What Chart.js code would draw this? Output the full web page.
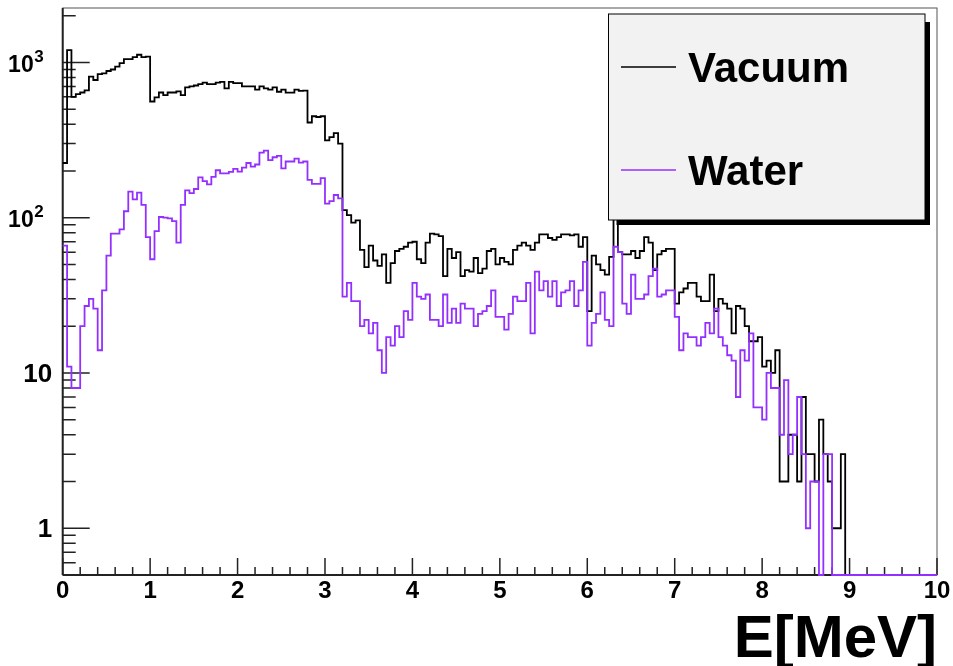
<!DOCTYPE html>
<html>
<head>
<meta charset="utf-8">
<title>Energy spectrum: Vacuum vs Water</title>
<script src="https://cdn.jsdelivr.net/npm/chart.js@4.4.1/dist/chart.umd.min.js"></script>
<style>
  html, body { margin: 0; padding: 0; background: #fff; }
  #wrap { position: relative; width: 953px; height: 666px; }
</style>
</head>
<body>
<div id="wrap"><canvas id="spectrum"></canvas></div>
<script>
// 200 bins of 0.05 MeV between 0 and 10 MeV (counts per bin)
const binWidth = 0.05;

const vacuumCounts = [
  225, 1200, 600, 625, 640, 660, 810, 770, 840, 850, 880, 900, 940, 990, 1050, 1050, 1080, 1120, 1080, 1090,
  560, 595, 640, 615, 640, 640, 650, 615, 690, 700, 710, 725, 740, 725, 725, 740, 750, 680, 750, 735,
  735, 700, 700, 700, 667, 700, 680, 667, 690, 647, 667, 638, 638, 667, 655, 657, 410, 450, 445, 450,
  315, 330, 350, 300, 112, 104, 93, 96, 62, 48, 66, 53, 49, 58, 38, 51, 61, 63, 65, 69,
  70, 54, 51, 69, 79, 78, 76, 42, 63, 55, 60, 42, 46, 45, 55, 44, 47, 61, 63, 50,
  55, 52, 50, 62, 66, 69, 66, 62, 69, 78, 78, 74, 72, 75, 78, 78, 77, 78, 65, 75,
  25, 57, 50, 46, 43, 56, 100, 60, 58, 58, 61, 55, 61, 75, 69, 46, 58, 61, 63, 63,
  28, 33, 35, 38, 38, 31, 29, 29, 43, 25, 30, 28, 26, 18, 27, 26, 20, 16, 16, 17,
  11, 12, 10, 14, 2, 2, 4, 4, 2, 7, 3, 3, 2, 5, 3, 2, 1, 1, 3, 0,
  0, 0, 0, 0, 0, 0, 0, 0, 0, 0, 0, 0, 0, 0, 0, 0, 0, 0, 0, 0
];

const waterCounts = [
  66, 11, 8, 8, 20, 27, 30, 26, 14, 34, 57, 79, 79, 84, 110, 147, 131, 145, 121, 75,
  54, 82, 101, 100, 99, 95, 69, 121, 150, 144, 153, 182, 172, 164, 183, 202, 193, 193, 197, 206,
  198, 210, 225, 213, 220, 262, 270, 235, 245, 250, 208, 230, 230, 240, 226, 230, 175, 165, 165, 180,
  123, 128, 140, 133, 31, 38, 29, 29, 20, 22, 18, 21, 14, 10, 17, 15, 20, 17, 25, 22,
  38, 31, 30, 32, 22, 22, 20, 32, 21, 26, 21, 28, 26, 26, 20, 24, 25, 27, 34, 23,
  23, 19, 24, 31, 29, 29, 38, 18, 45, 34, 39, 31, 39, 27, 33, 34, 39, 27, 34, 52,
  15, 21, 24, 33, 22, 20, 65, 60, 28, 24, 43, 30, 30, 32, 42, 47, 31, 32, 34, 34,
  23, 14, 18, 17, 17, 15, 17, 21, 18, 26, 17, 15, 13, 12, 7, 14, 12, 18, 6, 6,
  5, 10, 8, 8, 4, 9, 3, 4, 7, 3, 1, 2, 2, 0, 3, 3, 0, 0, 0, 0,
  0, 0, 0, 0, 0, 0, 0, 0, 0, 0, 0, 0, 0, 0, 0, 0, 0, 0, 0, 0
];

const seriesNames = ['Vacuum', 'Water'];
const xMajorTicks = [0, 1, 2, 3, 4, 5, 6, 7, 8, 9, 10];
const yTickValues = [1, 10, 100, 1000];
const yTickBases = ['1', '10', '10', '10'];
const yTickExponents = ['', '', '2', '3'];
const xTitle = 'E[MeV]';

const yMin = 0.5;
const yMax = 2240;
const family = "'Liberation Sans', Arial, Helvetica, sans-serif";

// one point per bin left edge + closing edge; empty bins sit on the frame floor like ROOT draws them
function stepPoints(counts) {
  const pts = counts.map((c, i) => ({ x: i * binWidth, y: c > 0 ? c : yMin }));
  const last = counts[counts.length - 1];
  pts.push({ x: counts.length * binWidth, y: last > 0 ? last : yMin });
  return pts;
}

function seg(ctx, x1, y1, x2, y2) {
  ctx.moveTo(x1, y1);
  ctx.lineTo(x2, y2);
}

// ROOT style frame, inward ticks and y labels with exponents
const rootAxes = {
  id: 'rootAxes',
  beforeDatasetsDraw(chart) {
    const { ctx, chartArea: a } = chart;
    const xs = chart.scales.x, ys = chart.scales.y;
    ctx.save();

    ctx.strokeStyle = '#555';
    ctx.lineWidth = 1;
    ctx.strokeRect(a.left, a.top, a.right - a.left, a.bottom - a.top);

    ctx.strokeStyle = '#222';
    ctx.lineWidth = 2;
    ctx.beginPath();
    seg(ctx, a.left, a.top, a.left, a.bottom);
    seg(ctx, a.left, a.bottom, a.right, a.bottom);
    ctx.stroke();

    // x ticks: majors every MeV, 5 subdivisions
    ctx.lineWidth = 1.5;
    ctx.beginPath();
    for (let i = 0; i < xMajorTicks.length - 1; i++) {
      for (let k = 0; k < 5; k++) {
        const v = xMajorTicks[i] + k * (xMajorTicks[i + 1] - xMajorTicks[i]) / 5;
        const px = xs.getPixelForValue(v);
        seg(ctx, px, a.bottom, px, a.bottom - (k === 0 ? 17 : 8));
      }
    }
    const pEnd = xs.getPixelForValue(xMajorTicks[xMajorTicks.length - 1]);
    seg(ctx, pEnd, a.bottom, pEnd, a.bottom - 17);

    // y ticks: decades long, 2..9 short
    yTickValues.forEach(v => {
      const py = ys.getPixelForValue(v);
      seg(ctx, a.left, py, a.left + 27, py);
    });
    for (let d = -1; d <= 3; d++) {
      for (let m = 2; m <= 9; m++) {
        const v = m * Math.pow(10, d);
        if (v <= yMin || v >= yMax) continue;
        const py = ys.getPixelForValue(v);
        seg(ctx, a.left, py, a.left + 13, py);
      }
    }
    ctx.stroke();

    // y labels
    ctx.fillStyle = '#000';
    ctx.textBaseline = 'middle';
    yTickValues.forEach((v, i) => {
      const py = ys.getPixelForValue(v);
      if (yTickExponents[i]) {
        ctx.font = 'bold 23px ' + family;
        ctx.textAlign = 'right';
        ctx.fillText(yTickBases[i], a.left - 29, py + 3);
        ctx.font = 'bold 17px ' + family;
        ctx.textAlign = 'left';
        ctx.fillText(yTickExponents[i], a.left - 28.5, py - 5);
      } else {
        ctx.font = 'bold 26px ' + family;
        ctx.textAlign = 'right';
        ctx.fillText(yTickBases[i], a.left - 10.5, py + 1.5);
      }
    });
    ctx.restore();
  },
  afterDraw(chart) {
    // legend pave with shadow, drawn over the histograms
    const { ctx } = chart;
    const box = { left: 608.5, top: 14, right: 925, bottom: 220 };
    const colors = chart.data.datasets.map(d => d.borderColor);
    ctx.save();
    ctx.fillStyle = '#000';
    ctx.fillRect(box.left + 8, box.top + 8, box.right - box.left - 3, box.bottom - box.top - 3);
    ctx.fillStyle = '#f2f2f2';
    ctx.fillRect(box.left, box.top, box.right - box.left, box.bottom - box.top);
    ctx.strokeStyle = '#000';
    ctx.lineWidth = 1;
    ctx.strokeRect(box.left, box.top, box.right - box.left, box.bottom - box.top);

    const rows = [67, 170];
    ctx.font = 'bold 42px ' + family;
    ctx.textAlign = 'left';
    ctx.textBaseline = 'alphabetic';
    seriesNames.forEach((name, i) => {
      ctx.strokeStyle = colors[i];
      ctx.lineWidth = 1.5;
      ctx.beginPath();
      seg(ctx, 621, rows[i], 676, rows[i]);
      ctx.stroke();
      ctx.fillStyle = '#000';
      ctx.fillText(name, 688, rows[i] + 15);
    });
    ctx.restore();
  }
};

new Chart(document.getElementById('spectrum'), {
  type: 'line',
  data: {
    datasets: [
      {
        label: seriesNames[0],
        data: stepPoints(vacuumCounts),
        borderColor: '#000000',
        borderWidth: 1.8,
        stepped: 'before',
        pointRadius: 0,
        fill: false,
        clip: false,
        order: 1
      },
      {
        label: seriesNames[1],
        data: stepPoints(waterCounts),
        borderColor: '#9430ff',
        borderWidth: 1.8,
        stepped: 'before',
        pointRadius: 0,
        fill: false,
        clip: false,
        order: 0
      }
    ]
  },
  options: {
    responsive: true,
    maintainAspectRatio: false,
    animation: false,
    events: [],
    layout: { padding: { top: 8, right: 16, left: 0, bottom: 0 } },
    plugins: {
      legend: { display: false },
      tooltip: { enabled: false }
    },
    scales: {
      x: {
        type: 'linear',
        min: 0,
        max: 10,
        grid: { display: false, drawTicks: false },
        border: { display: false },
        ticks: {
          stepSize: 1,
          autoSkip: false,
          maxRotation: 0,
          padding: 2,
          color: '#000',
          font: { family: family, size: 24, weight: 'bold' },
          callback: v => String(v)
        },
        title: {
          display: true,
          text: xTitle,
          align: 'end',
          color: '#000',
          font: { family: family, size: 60, weight: 'bold', lineHeight: 0.8 },
          padding: { top: 0, bottom: 2 }
        },
        afterFit: s => { s.height = 91; }
      },
      y: {
        type: 'logarithmic',
        min: yMin,
        max: yMax,
        grid: { display: false, drawTicks: false },
        border: { display: false },
        ticks: { display: false },
        afterFit: s => { s.width = 62.7; }
      }
    }
  },
  plugins: [rootAxes]
});
</script>
</body>
</html>
